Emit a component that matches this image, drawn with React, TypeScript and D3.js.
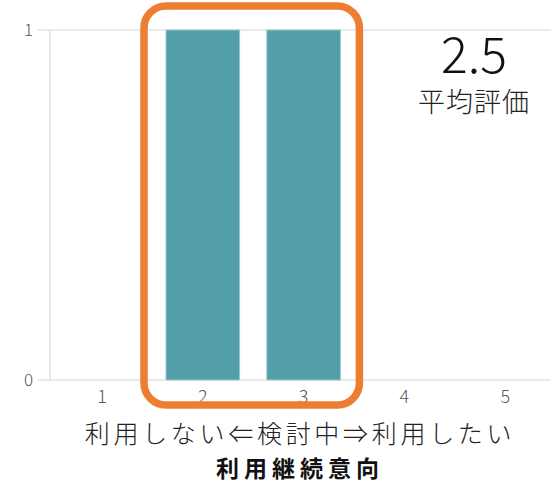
import { useEffect, useRef } from "react";
import * as d3 from "d3";

// 評価 1..5 の件数
const categories = ["1", "2", "3", "4", "5"];
const counts = [0, 1, 1, 0, 0];
const yTicks = [0, 1];
const averageLabel = "2.5";
const averageCaption = "平均評価";
const scaleCaption = "利用しない⇐検討中⇒利用したい";
const axisTitle = "利用継続意向";
const highlighted = ["2", "3"];

const W = 551;
const H = 484;
const FONT = "'Noto Sans CJK JP', 'Noto Sans', sans-serif";

export default function App() {
  const ref = useRef<SVGSVGElement | null>(null);

  useEffect(() => {
    document.body.style.margin = "0";
    if (!ref.current) return;
    const svg = d3.select(ref.current);
    svg.selectAll("*").remove();

    const x = d3.scaleBand<string>().domain(categories).range([51.6, 555.6]).paddingInner(0.27).paddingOuter(0.135);
    const y = d3.scaleLinear().domain([0, 1]).range([380, 30]);

    // grid
    svg
      .append("g")
      .selectAll("line")
      .data(yTicks)
      .enter()
      .append("line")
      .attr("x1", 38)
      .attr("x2", W)
      .attr("y1", (d) => y(d))
      .attr("y2", (d) => y(d))
      .attr("stroke", "#e3e3e3")
      .attr("stroke-width", 1.5);

    svg
      .append("line")
      .attr("x1", 50)
      .attr("x2", 50)
      .attr("y1", y(1))
      .attr("y2", y(0))
      .attr("stroke", "#e3e3e3")
      .attr("stroke-width", 1.5);

    // y tick labels
    svg
      .append("g")
      .selectAll("text")
      .data(yTicks)
      .enter()
      .append("text")
      .attr("x", 33)
      .attr("y", (d) => y(d))
      .attr("dy", "0.35em")
      .attr("text-anchor", "end")
      .style("font-family", FONT)
      .style("font-size", "17px")
      .style("font-weight", 300)
      .attr("fill", "#595959")
      .text((d) => String(d));

    // bars
    svg
      .append("g")
      .selectAll("rect")
      .data(categories.map((c, i) => ({ c, v: counts[i] })))
      .enter()
      .append("rect")
      .attr("x", (d) => x(d.c)!)
      .attr("width", x.bandwidth())
      .attr("y", (d) => y(d.v))
      .attr("height", (d) => y(0) - y(d.v))
      .attr("fill", "#529fab")
      .attr("stroke", "#9cc8cf")
      .attr("stroke-width", 1);

    // x tick labels
    svg
      .append("g")
      .selectAll("text")
      .data(categories)
      .enter()
      .append("text")
      .attr("x", (d) => x(d)! + x.bandwidth() / 2)
      .attr("y", 403)
      .attr("text-anchor", "middle")
      .style("font-family", FONT)
      .style("font-size", "18px")
      .style("font-weight", 300)
      .attr("fill", "#595959")
      .text((d) => d);

    // highlight frame
    const hx0 = x(highlighted[0])! - 22;
    const hx1 = x(highlighted[highlighted.length - 1])! + x.bandwidth() + 19;
    svg
      .append("rect")
      .attr("x", hx0)
      .attr("y", 6)
      .attr("width", hx1 - hx0)
      .attr("height", 399)
      .attr("rx", 22)
      .attr("fill", "none")
      .attr("stroke", "#ed7d31")
      .attr("stroke-width", 7.5);

    // average
    svg
      .append("text")
      .attr("x", 474)
      .attr("y", 73)
      .attr("text-anchor", "middle")
      .style("font-family", FONT)
      .style("font-size", "50px")
      .style("font-weight", 300)
      .attr("fill", "#111")
      .text(averageLabel);
    svg
      .append("text")
      .attr("x", 474)
      .attr("y", 112)
      .attr("text-anchor", "middle")
      .style("font-family", FONT)
      .style("font-size", "27px")
      .style("font-weight", 300)
      .style("letter-spacing", "1px")
      .attr("fill", "#222")
      .text(averageCaption);

    // axis captions
    svg
      .append("text")
      .attr("x", 300)
      .attr("y", 443)
      .attr("text-anchor", "middle")
      .style("font-family", FONT)
      .style("font-size", "25px")
      .style("font-weight", 300)
      .style("letter-spacing", "3.7px")
      .attr("fill", "#222")
      .text(scaleCaption);
    svg
      .append("text")
      .attr("x", 300)
      .attr("y", 477)
      .attr("text-anchor", "middle")
      .style("font-family", FONT)
      .style("font-size", "23px")
      .style("font-weight", 700)
      .style("letter-spacing", "5px")
      .attr("fill", "#111")
      .text(axisTitle);
  }, []);

  return <svg ref={ref} width={W} height={H} style={{ display: "block", background: "#fff" }} />;
}
